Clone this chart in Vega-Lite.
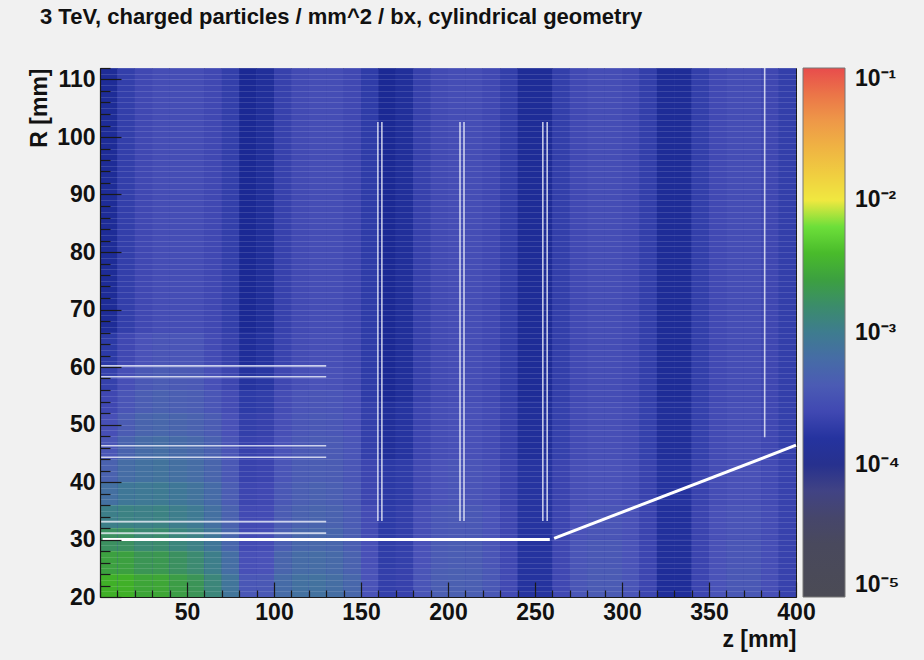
{
  "$schema": "https://vega.github.io/schema/vega-lite/v6.json",
  "width": 696,
  "height": 529,
  "autosize": {"type": "none"},
  "padding": {"left": 100, "top": 68, "right": 128, "bottom": 63},
  "background": "#f1f1f1",
  "title": {
    "text": "3 TeV, charged particles / mm^2 / bx, cylindrical geometry",
    "anchor": "start",
    "frame": "group",
    "font": "Liberation Sans",
    "fontWeight": "bold",
    "fontSize": 22,
    "color": "#111111",
    "baseline": "alphabetic",
    "dx": -60,
    "offset": 11
  },
  "config": {
    "view": {"stroke": "#1a1a1a", "strokeWidth": 1, "fill": "#3c46ae"},
    "axis": {
      "labelFont": "Liberation Sans",
      "labelFontWeight": "bold",
      "labelFontSize": 23,
      "labelColor": "#111111",
      "titleFont": "Liberation Sans",
      "titleFontWeight": "bold",
      "titleFontSize": 23,
      "titleColor": "#111111",
      "domainColor": "#1a1a1a",
      "domainWidth": 1.2,
      "tickColor": "#1a1a1a",
      "tickWidth": 1.2,
      "labelFlush": false,
      "labelOverlap": false,
      "labelSeparation": -100
    }
  },
  "datasets": {
    "flux": [
      {"z":0,"z2":10,"r":20,"r2":24,"lg":-2.45},{"z":0,"z2":10,"r":24,"r2":28,"lg":-2.60},{"z":0,"z2":10,"r":28,"r2":32,"lg":-2.75},{"z":0,"z2":10,"r":32,"r2":36,"lg":-2.96},{"z":0,"z2":10,"r":36,"r2":40,"lg":-3.15},{"z":0,"z2":10,"r":40,"r2":44,"lg":-3.31},{"z":0,"z2":10,"r":44,"r2":48,"lg":-3.45},{"z":0,"z2":10,"r":48,"r2":52,"lg":-3.53},{"z":0,"z2":10,"r":52,"r2":56,"lg":-3.61},{"z":0,"z2":10,"r":56,"r2":60,"lg":-3.68},{"z":0,"z2":10,"r":60,"r2":66,"lg":-3.75},{"z":0,"z2":10,"r":66,"r2":112,"lg":-3.85},
      {"z":10,"z2":20,"r":20,"r2":24,"lg":-2.45},{"z":10,"z2":20,"r":24,"r2":28,"lg":-2.60},{"z":10,"z2":20,"r":28,"r2":32,"lg":-2.75},{"z":10,"z2":20,"r":32,"r2":36,"lg":-2.92},{"z":10,"z2":20,"r":36,"r2":40,"lg":-3.06},{"z":10,"z2":20,"r":40,"r2":44,"lg":-3.19},{"z":10,"z2":20,"r":44,"r2":48,"lg":-3.30},{"z":10,"z2":20,"r":48,"r2":52,"lg":-3.38},{"z":10,"z2":20,"r":52,"r2":56,"lg":-3.46},{"z":10,"z2":20,"r":56,"r2":60,"lg":-3.53},{"z":10,"z2":20,"r":60,"r2":66,"lg":-3.60},{"z":10,"z2":20,"r":66,"r2":112,"lg":-3.70},
      {"z":20,"z2":30,"r":20,"r2":24,"lg":-2.55},{"z":20,"z2":30,"r":24,"r2":28,"lg":-2.70},{"z":20,"z2":30,"r":28,"r2":32,"lg":-2.84},{"z":20,"z2":30,"r":32,"r2":36,"lg":-2.95},{"z":20,"z2":30,"r":36,"r2":40,"lg":-3.04},{"z":20,"z2":30,"r":40,"r2":44,"lg":-3.14},{"z":20,"z2":30,"r":44,"r2":48,"lg":-3.21},{"z":20,"z2":30,"r":48,"r2":52,"lg":-3.29},{"z":20,"z2":30,"r":52,"r2":56,"lg":-3.37},{"z":20,"z2":30,"r":56,"r2":60,"lg":-3.43},{"z":20,"z2":30,"r":60,"r2":66,"lg":-3.50},{"z":20,"z2":30,"r":66,"r2":112,"lg":-3.60},
      {"z":30,"z2":40,"r":20,"r2":24,"lg":-2.54},{"z":30,"z2":40,"r":24,"r2":28,"lg":-2.68},{"z":30,"z2":40,"r":28,"r2":32,"lg":-2.81},{"z":30,"z2":40,"r":32,"r2":36,"lg":-2.92},{"z":30,"z2":40,"r":36,"r2":40,"lg":-3.02},{"z":30,"z2":40,"r":40,"r2":44,"lg":-3.11},{"z":30,"z2":40,"r":44,"r2":48,"lg":-3.18},{"z":30,"z2":40,"r":48,"r2":52,"lg":-3.26},{"z":30,"z2":40,"r":52,"r2":56,"lg":-3.33},{"z":30,"z2":40,"r":56,"r2":60,"lg":-3.39},{"z":30,"z2":40,"r":60,"r2":66,"lg":-3.46},{"z":30,"z2":40,"r":66,"r2":112,"lg":-3.55},
      {"z":40,"z2":50,"r":20,"r2":24,"lg":-2.63},{"z":40,"z2":50,"r":24,"r2":28,"lg":-2.75},{"z":40,"z2":50,"r":28,"r2":32,"lg":-2.88},{"z":40,"z2":50,"r":32,"r2":36,"lg":-2.98},{"z":40,"z2":50,"r":36,"r2":40,"lg":-3.06},{"z":40,"z2":50,"r":40,"r2":44,"lg":-3.15},{"z":40,"z2":50,"r":44,"r2":48,"lg":-3.21},{"z":40,"z2":50,"r":48,"r2":52,"lg":-3.28},{"z":40,"z2":50,"r":52,"r2":56,"lg":-3.35},{"z":40,"z2":50,"r":56,"r2":60,"lg":-3.41},{"z":40,"z2":50,"r":60,"r2":66,"lg":-3.47},{"z":40,"z2":50,"r":66,"r2":112,"lg":-3.55},
      {"z":50,"z2":60,"r":20,"r2":24,"lg":-2.71},{"z":50,"z2":60,"r":24,"r2":28,"lg":-2.83},{"z":50,"z2":60,"r":28,"r2":32,"lg":-2.94},{"z":50,"z2":60,"r":32,"r2":36,"lg":-3.03},{"z":50,"z2":60,"r":36,"r2":40,"lg":-3.11},{"z":50,"z2":60,"r":40,"r2":44,"lg":-3.19},{"z":50,"z2":60,"r":44,"r2":48,"lg":-3.25},{"z":50,"z2":60,"r":48,"r2":52,"lg":-3.31},{"z":50,"z2":60,"r":52,"r2":56,"lg":-3.37},{"z":50,"z2":60,"r":56,"r2":60,"lg":-3.42},{"z":50,"z2":60,"r":60,"r2":66,"lg":-3.47},{"z":50,"z2":60,"r":66,"r2":112,"lg":-3.55},
      {"z":60,"z2":70,"r":20,"r2":24,"lg":-2.87},{"z":60,"z2":70,"r":24,"r2":28,"lg":-2.97},{"z":60,"z2":70,"r":28,"r2":32,"lg":-3.07},{"z":60,"z2":70,"r":32,"r2":36,"lg":-3.15},{"z":60,"z2":70,"r":36,"r2":40,"lg":-3.21},{"z":60,"z2":70,"r":40,"r2":44,"lg":-3.28},{"z":60,"z2":70,"r":44,"r2":48,"lg":-3.33},{"z":60,"z2":70,"r":48,"r2":52,"lg":-3.38},{"z":60,"z2":70,"r":52,"r2":56,"lg":-3.45},{"z":60,"z2":70,"r":56,"r2":60,"lg":-3.52},{"z":60,"z2":70,"r":60,"r2":66,"lg":-3.57},{"z":60,"z2":70,"r":66,"r2":112,"lg":-3.60},
      {"z":70,"z2":80,"r":20,"r2":24,"lg":-3.09},{"z":70,"z2":80,"r":24,"r2":28,"lg":-3.18},{"z":70,"z2":80,"r":28,"r2":32,"lg":-3.27},{"z":70,"z2":80,"r":32,"r2":36,"lg":-3.31},{"z":70,"z2":80,"r":36,"r2":40,"lg":-3.37},{"z":70,"z2":80,"r":40,"r2":44,"lg":-3.43},{"z":70,"z2":80,"r":44,"r2":48,"lg":-3.46},{"z":70,"z2":80,"r":48,"r2":52,"lg":-3.51},{"z":70,"z2":80,"r":52,"r2":56,"lg":-3.56},{"z":70,"z2":80,"r":56,"r2":60,"lg":-3.62},{"z":70,"z2":80,"r":60,"r2":66,"lg":-3.67},{"z":70,"z2":80,"r":66,"r2":112,"lg":-3.70},
      {"z":80,"z2":90,"r":20,"r2":24,"lg":-3.44},{"z":80,"z2":90,"r":24,"r2":28,"lg":-3.52},{"z":80,"z2":90,"r":28,"r2":32,"lg":-3.57},{"z":80,"z2":90,"r":32,"r2":36,"lg":-3.58},{"z":80,"z2":90,"r":36,"r2":40,"lg":-3.62},{"z":80,"z2":90,"r":40,"r2":44,"lg":-3.66},{"z":80,"z2":90,"r":44,"r2":48,"lg":-3.66},{"z":80,"z2":90,"r":48,"r2":52,"lg":-3.70},{"z":80,"z2":90,"r":52,"r2":56,"lg":-3.74},{"z":80,"z2":90,"r":56,"r2":60,"lg":-3.80},{"z":80,"z2":90,"r":60,"r2":66,"lg":-3.84},{"z":80,"z2":90,"r":66,"r2":112,"lg":-3.87},
      {"z":90,"z2":100,"r":20,"r2":24,"lg":-3.43},{"z":90,"z2":100,"r":24,"r2":28,"lg":-3.50},{"z":90,"z2":100,"r":28,"r2":32,"lg":-3.55},{"z":90,"z2":100,"r":32,"r2":36,"lg":-3.57},{"z":90,"z2":100,"r":36,"r2":40,"lg":-3.60},{"z":90,"z2":100,"r":40,"r2":44,"lg":-3.64},{"z":90,"z2":100,"r":44,"r2":48,"lg":-3.64},{"z":90,"z2":100,"r":48,"r2":52,"lg":-3.67},{"z":90,"z2":100,"r":52,"r2":56,"lg":-3.71},{"z":90,"z2":100,"r":56,"r2":60,"lg":-3.77},{"z":90,"z2":100,"r":60,"r2":66,"lg":-3.80},{"z":90,"z2":100,"r":66,"r2":112,"lg":-3.83},
      {"z":100,"z2":110,"r":20,"r2":24,"lg":-3.21},{"z":100,"z2":110,"r":24,"r2":28,"lg":-3.28},{"z":100,"z2":110,"r":28,"r2":32,"lg":-3.35},{"z":100,"z2":110,"r":32,"r2":36,"lg":-3.38},{"z":100,"z2":110,"r":36,"r2":40,"lg":-3.43},{"z":100,"z2":110,"r":40,"r2":44,"lg":-3.47},{"z":100,"z2":110,"r":44,"r2":48,"lg":-3.49},{"z":100,"z2":110,"r":48,"r2":52,"lg":-3.53},{"z":100,"z2":110,"r":52,"r2":56,"lg":-3.56},{"z":100,"z2":110,"r":56,"r2":60,"lg":-3.61},{"z":100,"z2":110,"r":60,"r2":66,"lg":-3.65},{"z":100,"z2":110,"r":66,"r2":112,"lg":-3.67},
      {"z":110,"z2":120,"r":20,"r2":24,"lg":-3.14},{"z":110,"z2":120,"r":24,"r2":28,"lg":-3.20},{"z":110,"z2":120,"r":28,"r2":32,"lg":-3.26},{"z":110,"z2":120,"r":32,"r2":36,"lg":-3.31},{"z":110,"z2":120,"r":36,"r2":40,"lg":-3.35},{"z":110,"z2":120,"r":40,"r2":44,"lg":-3.39},{"z":110,"z2":120,"r":44,"r2":48,"lg":-3.42},{"z":110,"z2":120,"r":48,"r2":52,"lg":-3.45},{"z":110,"z2":120,"r":52,"r2":56,"lg":-3.48},{"z":110,"z2":120,"r":56,"r2":60,"lg":-3.53},{"z":110,"z2":120,"r":60,"r2":66,"lg":-3.56},{"z":110,"z2":120,"r":66,"r2":112,"lg":-3.58},
      {"z":120,"z2":130,"r":20,"r2":24,"lg":-3.13},{"z":120,"z2":130,"r":24,"r2":28,"lg":-3.19},{"z":120,"z2":130,"r":28,"r2":32,"lg":-3.25},{"z":120,"z2":130,"r":32,"r2":36,"lg":-3.29},{"z":120,"z2":130,"r":36,"r2":40,"lg":-3.33},{"z":120,"z2":130,"r":40,"r2":44,"lg":-3.37},{"z":120,"z2":130,"r":44,"r2":48,"lg":-3.40},{"z":120,"z2":130,"r":48,"r2":52,"lg":-3.43},{"z":120,"z2":130,"r":52,"r2":56,"lg":-3.46},{"z":120,"z2":130,"r":56,"r2":60,"lg":-3.50},{"z":120,"z2":130,"r":60,"r2":66,"lg":-3.53},{"z":120,"z2":130,"r":66,"r2":112,"lg":-3.55},
      {"z":130,"z2":140,"r":20,"r2":24,"lg":-3.17},{"z":130,"z2":140,"r":24,"r2":28,"lg":-3.22},{"z":130,"z2":140,"r":28,"r2":32,"lg":-3.27},{"z":130,"z2":140,"r":32,"r2":36,"lg":-3.31},{"z":130,"z2":140,"r":36,"r2":40,"lg":-3.35},{"z":130,"z2":140,"r":40,"r2":44,"lg":-3.38},{"z":130,"z2":140,"r":44,"r2":48,"lg":-3.41},{"z":130,"z2":140,"r":48,"r2":52,"lg":-3.44},{"z":130,"z2":140,"r":52,"r2":56,"lg":-3.47},{"z":130,"z2":140,"r":56,"r2":60,"lg":-3.51},{"z":130,"z2":140,"r":60,"r2":66,"lg":-3.53},{"z":130,"z2":140,"r":66,"r2":112,"lg":-3.55},
      {"z":140,"z2":150,"r":20,"r2":24,"lg":-3.26},{"z":140,"z2":150,"r":24,"r2":28,"lg":-3.31},{"z":140,"z2":150,"r":28,"r2":32,"lg":-3.36},{"z":140,"z2":150,"r":32,"r2":36,"lg":-3.39},{"z":140,"z2":150,"r":36,"r2":40,"lg":-3.42},{"z":140,"z2":150,"r":40,"r2":44,"lg":-3.45},{"z":140,"z2":150,"r":44,"r2":48,"lg":-3.47},{"z":140,"z2":150,"r":48,"r2":52,"lg":-3.50},{"z":140,"z2":150,"r":52,"r2":56,"lg":-3.52},{"z":140,"z2":150,"r":56,"r2":60,"lg":-3.56},{"z":140,"z2":150,"r":60,"r2":66,"lg":-3.58},{"z":140,"z2":150,"r":66,"r2":112,"lg":-3.60},
      {"z":150,"z2":160,"r":20,"r2":25,"lg":-3.49},{"z":150,"z2":160,"r":25,"r2":30,"lg":-3.52},{"z":150,"z2":160,"r":30,"r2":36,"lg":-3.56},{"z":150,"z2":160,"r":36,"r2":44,"lg":-3.62},{"z":150,"z2":160,"r":44,"r2":54,"lg":-3.69},{"z":150,"z2":160,"r":54,"r2":112,"lg":-3.73},
      {"z":160,"z2":170,"r":20,"r2":25,"lg":-3.70},{"z":160,"z2":170,"r":25,"r2":30,"lg":-3.72},{"z":160,"z2":170,"r":30,"r2":36,"lg":-3.74},{"z":160,"z2":170,"r":36,"r2":44,"lg":-3.76},{"z":160,"z2":170,"r":44,"r2":54,"lg":-3.83},{"z":160,"z2":170,"r":54,"r2":112,"lg":-3.87},
      {"z":170,"z2":180,"r":20,"r2":25,"lg":-3.67},{"z":170,"z2":180,"r":25,"r2":30,"lg":-3.69},{"z":170,"z2":180,"r":30,"r2":36,"lg":-3.70},{"z":170,"z2":180,"r":36,"r2":44,"lg":-3.73},{"z":170,"z2":180,"r":44,"r2":54,"lg":-3.79},{"z":170,"z2":180,"r":54,"r2":112,"lg":-3.83},
      {"z":180,"z2":190,"r":20,"r2":25,"lg":-3.47},{"z":180,"z2":190,"r":25,"r2":30,"lg":-3.50},{"z":180,"z2":190,"r":30,"r2":36,"lg":-3.53},{"z":180,"z2":190,"r":36,"r2":44,"lg":-3.58},{"z":180,"z2":190,"r":44,"r2":54,"lg":-3.63},{"z":180,"z2":190,"r":54,"r2":112,"lg":-3.67},
      {"z":190,"z2":200,"r":20,"r2":25,"lg":-3.36},{"z":190,"z2":200,"r":25,"r2":30,"lg":-3.40},{"z":190,"z2":200,"r":30,"r2":36,"lg":-3.44},{"z":190,"z2":200,"r":36,"r2":44,"lg":-3.50},{"z":190,"z2":200,"r":44,"r2":54,"lg":-3.55},{"z":190,"z2":200,"r":54,"r2":112,"lg":-3.58},
      {"z":200,"z2":210,"r":20,"r2":25,"lg":-3.34},{"z":200,"z2":210,"r":25,"r2":30,"lg":-3.37},{"z":200,"z2":210,"r":30,"r2":36,"lg":-3.42},{"z":200,"z2":210,"r":36,"r2":44,"lg":-3.47},{"z":200,"z2":210,"r":44,"r2":54,"lg":-3.52},{"z":200,"z2":210,"r":54,"r2":112,"lg":-3.55},
      {"z":210,"z2":220,"r":20,"r2":25,"lg":-3.35},{"z":210,"z2":220,"r":25,"r2":30,"lg":-3.38},{"z":210,"z2":220,"r":30,"r2":36,"lg":-3.43},{"z":210,"z2":220,"r":36,"r2":44,"lg":-3.48},{"z":210,"z2":220,"r":44,"r2":54,"lg":-3.52},{"z":210,"z2":220,"r":54,"r2":112,"lg":-3.55},
      {"z":220,"z2":230,"r":20,"r2":25,"lg":-3.43},{"z":220,"z2":230,"r":25,"r2":30,"lg":-3.46},{"z":220,"z2":230,"r":30,"r2":36,"lg":-3.49},{"z":220,"z2":230,"r":36,"r2":44,"lg":-3.53},{"z":220,"z2":230,"r":44,"r2":54,"lg":-3.57},{"z":220,"z2":230,"r":54,"r2":112,"lg":-3.60},
      {"z":230,"z2":240,"r":20,"r2":25,"lg":-3.58},{"z":230,"z2":240,"r":25,"r2":30,"lg":-3.60},{"z":230,"z2":240,"r":30,"r2":36,"lg":-3.61},{"z":230,"z2":240,"r":36,"r2":44,"lg":-3.64},{"z":230,"z2":240,"r":44,"r2":54,"lg":-3.67},{"z":230,"z2":240,"r":54,"r2":112,"lg":-3.70},
      {"z":240,"z2":250,"r":20,"r2":25,"lg":-3.80},{"z":240,"z2":250,"r":25,"r2":30,"lg":-3.80},{"z":240,"z2":250,"r":30,"r2":36,"lg":-3.79},{"z":240,"z2":250,"r":36,"r2":44,"lg":-3.79},{"z":240,"z2":250,"r":44,"r2":54,"lg":-3.83},{"z":240,"z2":250,"r":54,"r2":112,"lg":-3.85},
      {"z":250,"z2":260,"r":20,"r2":25,"lg":-3.80},{"z":250,"z2":260,"r":25,"r2":30,"lg":-3.80},{"z":250,"z2":260,"r":30,"r2":36,"lg":-3.79},{"z":250,"z2":260,"r":36,"r2":44,"lg":-3.79},{"z":250,"z2":260,"r":44,"r2":54,"lg":-3.83},{"z":250,"z2":260,"r":54,"r2":112,"lg":-3.85},
      {"z":260,"z2":270,"r":20,"r2":25,"lg":-3.60},{"z":260,"z2":270,"r":25,"r2":30,"lg":-3.61},{"z":260,"z2":270,"r":30,"r2":36,"lg":-3.63},{"z":260,"z2":270,"r":36,"r2":44,"lg":-3.64},{"z":260,"z2":270,"r":44,"r2":54,"lg":-3.68},{"z":260,"z2":270,"r":54,"r2":112,"lg":-3.70},
      {"z":270,"z2":280,"r":20,"r2":25,"lg":-3.45},{"z":270,"z2":280,"r":25,"r2":30,"lg":-3.47},{"z":270,"z2":280,"r":30,"r2":36,"lg":-3.50},{"z":270,"z2":280,"r":36,"r2":44,"lg":-3.53},{"z":270,"z2":280,"r":44,"r2":54,"lg":-3.57},{"z":270,"z2":280,"r":54,"r2":112,"lg":-3.59},
      {"z":280,"z2":290,"r":20,"r2":25,"lg":-3.40},{"z":280,"z2":290,"r":25,"r2":30,"lg":-3.43},{"z":280,"z2":290,"r":30,"r2":36,"lg":-3.46},{"z":280,"z2":290,"r":36,"r2":44,"lg":-3.50},{"z":280,"z2":290,"r":44,"r2":54,"lg":-3.53},{"z":280,"z2":290,"r":54,"r2":112,"lg":-3.55},
      {"z":290,"z2":300,"r":20,"r2":25,"lg":-3.40},{"z":290,"z2":300,"r":25,"r2":30,"lg":-3.43},{"z":290,"z2":300,"r":30,"r2":36,"lg":-3.46},{"z":290,"z2":300,"r":36,"r2":44,"lg":-3.50},{"z":290,"z2":300,"r":44,"r2":54,"lg":-3.53},{"z":290,"z2":300,"r":54,"r2":112,"lg":-3.55},
      {"z":300,"z2":310,"r":20,"r2":25,"lg":-3.47},{"z":300,"z2":310,"r":25,"r2":30,"lg":-3.49},{"z":300,"z2":310,"r":30,"r2":36,"lg":-3.51},{"z":300,"z2":310,"r":36,"r2":44,"lg":-3.54},{"z":300,"z2":310,"r":44,"r2":54,"lg":-3.57},{"z":300,"z2":310,"r":54,"r2":112,"lg":-3.59},
      {"z":310,"z2":320,"r":20,"r2":25,"lg":-3.62},{"z":310,"z2":320,"r":25,"r2":30,"lg":-3.63},{"z":310,"z2":320,"r":30,"r2":36,"lg":-3.64},{"z":310,"z2":320,"r":36,"r2":44,"lg":-3.65},{"z":310,"z2":320,"r":44,"r2":54,"lg":-3.68},{"z":310,"z2":320,"r":54,"r2":112,"lg":-3.70},
      {"z":320,"z2":330,"r":20,"r2":25,"lg":-3.84},{"z":320,"z2":330,"r":25,"r2":30,"lg":-3.83},{"z":320,"z2":330,"r":30,"r2":36,"lg":-3.82},{"z":320,"z2":330,"r":36,"r2":44,"lg":-3.80},{"z":320,"z2":330,"r":44,"r2":54,"lg":-3.83},{"z":320,"z2":330,"r":54,"r2":112,"lg":-3.85},
      {"z":330,"z2":340,"r":20,"r2":25,"lg":-3.84},{"z":330,"z2":340,"r":25,"r2":30,"lg":-3.83},{"z":330,"z2":340,"r":30,"r2":36,"lg":-3.82},{"z":330,"z2":340,"r":36,"r2":44,"lg":-3.80},{"z":330,"z2":340,"r":44,"r2":54,"lg":-3.83},{"z":330,"z2":340,"r":54,"r2":112,"lg":-3.85},
      {"z":340,"z2":350,"r":20,"r2":25,"lg":-3.63},{"z":340,"z2":350,"r":25,"r2":30,"lg":-3.64},{"z":340,"z2":350,"r":30,"r2":36,"lg":-3.64},{"z":340,"z2":350,"r":36,"r2":44,"lg":-3.65},{"z":340,"z2":350,"r":44,"r2":54,"lg":-3.68},{"z":340,"z2":350,"r":54,"r2":112,"lg":-3.70},
      {"z":350,"z2":360,"r":20,"r2":25,"lg":-3.49},{"z":350,"z2":360,"r":25,"r2":30,"lg":-3.51},{"z":350,"z2":360,"r":30,"r2":36,"lg":-3.52},{"z":350,"z2":360,"r":36,"r2":44,"lg":-3.55},{"z":350,"z2":360,"r":44,"r2":54,"lg":-3.57},{"z":350,"z2":360,"r":54,"r2":112,"lg":-3.59},
      {"z":360,"z2":370,"r":20,"r2":25,"lg":-3.43},{"z":360,"z2":370,"r":25,"r2":30,"lg":-3.45},{"z":360,"z2":370,"r":30,"r2":36,"lg":-3.48},{"z":360,"z2":370,"r":36,"r2":44,"lg":-3.51},{"z":360,"z2":370,"r":44,"r2":54,"lg":-3.53},{"z":360,"z2":370,"r":54,"r2":112,"lg":-3.55},
      {"z":370,"z2":380,"r":20,"r2":25,"lg":-3.43},{"z":370,"z2":380,"r":25,"r2":30,"lg":-3.45},{"z":370,"z2":380,"r":30,"r2":36,"lg":-3.48},{"z":370,"z2":380,"r":36,"r2":44,"lg":-3.51},{"z":370,"z2":380,"r":44,"r2":54,"lg":-3.53},{"z":370,"z2":380,"r":54,"r2":112,"lg":-3.55},
      {"z":380,"z2":390,"r":20,"r2":25,"lg":-3.53},{"z":380,"z2":390,"r":25,"r2":30,"lg":-3.54},{"z":380,"z2":390,"r":30,"r2":36,"lg":-3.55},{"z":380,"z2":390,"r":36,"r2":44,"lg":-3.57},{"z":380,"z2":390,"r":44,"r2":54,"lg":-3.60},{"z":380,"z2":390,"r":54,"r2":112,"lg":-3.61},
      {"z":390,"z2":400,"r":20,"r2":25,"lg":-3.66},{"z":390,"z2":400,"r":25,"r2":30,"lg":-3.66},{"z":390,"z2":400,"r":30,"r2":36,"lg":-3.66},{"z":390,"z2":400,"r":36,"r2":44,"lg":-3.66},{"z":390,"z2":400,"r":44,"r2":54,"lg":-3.69},{"z":390,"z2":400,"r":54,"r2":112,"lg":-3.70}
    ],
    "geometry": [
      {"part":"beam pipe","z":1.5,"z2":258.5,"r":30.0,"r2":30.0},
      {"part":"beam pipe","z":261,"z2":400,"r":30.2,"r2":46.4},
      {"part":"barrel layer","z":0,"z2":130,"r":60.2,"r2":60.2},
      {"part":"barrel layer","z":0,"z2":130,"r":58.3,"r2":58.3},
      {"part":"barrel layer","z":0,"z2":130,"r":46.3,"r2":46.3},
      {"part":"barrel layer","z":0,"z2":130,"r":44.3,"r2":44.3},
      {"part":"barrel layer","z":0,"z2":130,"r":33.1,"r2":33.1},
      {"part":"barrel layer","z":0,"z2":130,"r":31.1,"r2":31.1},
      {"part":"forward disk","z":159.7,"z2":159.7,"r":33.2,"r2":102.6},
      {"part":"forward disk","z":162.0,"z2":162.0,"r":33.2,"r2":102.6},
      {"part":"forward disk","z":206.9,"z2":206.9,"r":33.2,"r2":102.6},
      {"part":"forward disk","z":209.2,"z2":209.2,"r":33.2,"r2":102.6},
      {"part":"forward disk","z":254.5,"z2":254.5,"r":33.2,"r2":102.6},
      {"part":"forward disk","z":257.0,"z2":257.0,"r":33.2,"r2":102.6},
      {"part":"support","z":382,"z2":382,"r":47.8,"r2":112}
    ]
  },
  "encoding": {
    "x": {
      "field": "z",
      "type": "quantitative",
      "scale": {"domain": [0, 400], "nice": false, "zero": false},
      "axis": {
        "title": "z [mm]",
        "titleAnchor": "end",
        "titlePadding": 4,
        "zindex": 2,
        "ticks": true,
        "labelOverlap": false,
        "labelSeparation": -100,
        "values": [0,10,20,30,40,50,60,70,80,90,100,110,120,130,140,150,160,170,180,190,200,210,220,230,240,250,260,270,280,290,300,310,320,330,340,350,360,370,380,390,400],
        "labelExpr": "datum.value % 50 === 0 && datum.value > 0 ? datum.label : ''",
        "tickSize": -15,
        "tickDash": {"condition": {"test": "datum.value % 50 !== 0", "value": [7, 30]}, "value": [30, 0]},
        "labelPadding": 19,
        "grid": false
      }
    },
    "x2": {"field": "z2"},
    "y": {
      "field": "r",
      "type": "quantitative",
      "scale": {"domain": [20, 112], "nice": false, "zero": false},
      "axis": {
        "title": "R [mm]",
        "titleAnchor": "end",
        "titlePadding": 5,
        "zindex": 2,
        "ticks": true,
        "labelOverlap": false,
        "labelSeparation": -100,
        "values": [20,21,22,23,24,25,26,27,28,29,30,31,32,33,34,35,36,37,38,39,40,41,42,43,44,45,46,47,48,49,50,51,52,53,54,55,56,57,58,59,60,61,62,63,64,65,66,67,68,69,70,71,72,73,74,75,76,77,78,79,80,81,82,83,84,85,86,87,88,89,90,91,92,93,94,95,96,97,98,99,100,101,102,103,104,105,106,107,108,109,110,111,112],
        "labelExpr": "datum.value % 10 === 0 ? datum.label : ''",
        "tickSize": -21,
        "tickDash": {"condition": {"test": "datum.value % 10 !== 0", "value": [10, 30]}, "value": [30, 0]},
        "tickOpacity": {"condition": {"test": "datum.value % 2 === 1", "value": 0}, "value": 1},
        "labelPadding": 26,
        "grid": true,
        "gridColor": "#ffffff",
        "gridOpacity": 0.13,
        "gridWidth": 1
      }
    },
    "y2": {"field": "r2"}
  },
  "layer": [
    {
      "data": {"name": "flux"},
      "mark": {"type": "rect"},
      "encoding": {
        "color": {
          "field": "lg",
          "type": "quantitative",
          "scale": {
            "domain": [-5, -4.5, -4.15, -3.9, -3.75, -3.6, -3.5, -3.35, -3.2, -3.05, -2.9, -2.75, -2.6, -2.45, -2.3, -2.1, -2.005, -2.0, -1.7, -1.4, -1.15, -1.0],
            "range": ["#4b4b55", "#48485f", "#40428a", "#172590", "#2c3aa6", "#4048b2", "#4a52b8", "#4b5fb2", "#466ca6", "#3f7896", "#3c8480", "#3b9060", "#3ca040", "#40b028", "#5cd030", "#7eee44", "#88f850", "#f0e840", "#f0c040", "#ee9848", "#ea6c48", "#e84c4c"],
            "interpolate": "rgb"
          },
          "legend": {
            "type": "gradient",
            "orient": "none",
            "legendX": 703,
            "legendY": 0,
            "padding": 0,
            "direction": "vertical",
            "gradientLength": 529,
            "gradientThickness": 42,
            "gradientStrokeColor": "#777777",
            "gradientStrokeWidth": 1,
            "values": [-5, -4, -3, -2, -1],
            "labelExpr": "'10' + replace(replace(replace(replace(replace(replace('' + datum.value, '-', '⁻'), '1', '¹'), '2', '²'), '3', '³'), '4', '⁴'), '5', '⁵')",
            "labelFont": "Liberation Sans",
            "labelFontWeight": "bold",
            "labelFontSize": 23,
            "labelColor": "#111111",
            "labelOffset": 10,
            "labelBaseline": "middle",
            "labelOverlap": false,
            "title": null
          }
        }
      }
    },
    {
      "data": {"name": "geometry"},
      "transform": [{"filter": "datum.part !== 'beam pipe'"}],
      "mark": {"type": "rule", "color": "#eef0fa", "strokeWidth": 1.6, "opacity": 0.8, "strokeCap": "butt"}
    },
    {
      "data": {"name": "geometry"},
      "transform": [{"filter": "datum.part === 'beam pipe'"}],
      "mark": {"type": "rule", "color": "#ffffff", "strokeWidth": 3, "strokeCap": "butt"}
    }
  ]
}
